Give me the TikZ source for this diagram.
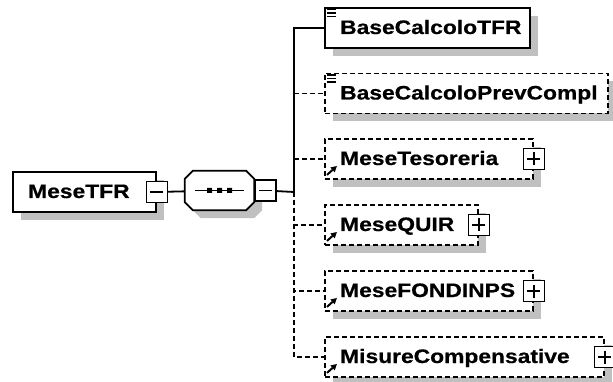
\documentclass[tikz,border=0pt]{standalone}
\usepackage{fontspec}
\newfontfamily\xsdfont{Liberation Sans}[FakeStretch=1.17, BoldFeatures={FakeBold=0.6}]
\usepackage{tikz}
\usetikzlibrary{positioning,shadows,calc,arrows.meta}
\definecolor{shadowGray}{HTML}{C0C0C0}

% octagon outline of a compositor node, moved by (#2,#3)
\newcommand{\octpath}[3]{($(#1.north west)+(8+#2,#3)$) -- ($(#1.north east)+(-8+#2,#3)$)
  -- ($(#1.north east)+(#2,8+#3)$) -- ($(#1.south east)+(#2,-8+#3)$)
  -- ($(#1.south east)+(-8+#2,#3)$) -- ($(#1.south west)+(8+#2,#3)$)
  -- ($(#1.south west)+(#2,-8+#3)$) -- ($(#1.north west)+(#2,8+#3)$) -- cycle}

\begin{document}
\begin{tikzpicture}[
  x=1pt, y=-1pt,
  font={\xsdfont\bfseries\fontsize{19.5}{20}\selectfont},
  elem/.style={draw, fill=white, line width=1.8pt, minimum height=40pt, inner sep=0pt, anchor=west,
    drop shadow={shadow xshift=8pt, shadow yshift=-8pt, fill=shadowGray, opacity=1}},
  optional/.style={dash pattern=on 5pt off 3pt},
  elemname/.style={inner sep=0pt, anchor=base west},
  compositor/.style={minimum width=69pt, minimum height=39pt, inner sep=0pt},
  expander/.style={draw, fill=white, line width=1.6pt, minimum size=21pt, inner sep=0pt},
  minusbox/.style={expander, path picture={
    \draw[line width=1.6pt] ([xshift=4pt]path picture bounding box.west) -- ([xshift=-4pt]path picture bounding box.east);}},
  plusbox/.style={expander, path picture={
    \draw[line width=1.6pt] ([xshift=4pt]path picture bounding box.west) -- ([xshift=-4pt]path picture bounding box.east);
    \draw[line width=1.6pt] ([yshift=-4pt]path picture bounding box.north) -- ([yshift=4pt]path picture bounding box.south);}},
  conn/.style={line width=1.8pt},
  refarrow/.style={line width=2pt, -{Triangle[length=6pt, width=6pt]}},
]
\useasboundingbox (0,0) rectangle (613,382);

% Root element
\node[elem, minimum width=143pt] (root) at (12,192) {};
\node[elemname] at ([xshift=16pt, yshift=-6pt]root.west) {MeseTFR};
\node[minusbox] (rootminus) at (root.east) {};

% Sequence compositor
\node[compositor] (seq) at (219.5,190.5) {};
\fill[shadowGray] \octpath{seq}{8}{8};
\draw[conn, fill=white] \octpath{seq}{0}{0};
\draw[conn] ([xshift=10pt]seq.west) -- ([xshift=-10pt]seq.east);
\fill ([xshift=-12.5pt, yshift=2.5pt]seq.center) rectangle ++(5,5) ++(5,-5) rectangle ++(5,5) ++(5,-5) rectangle ++(5,5);
\node[minusbox, anchor=west] (seqminus) at (seq.east) {};
\draw[conn] (rootminus) -- (seq);

% Children
\node[elem, minimum width=205pt] (tfr) at (324,28) {};
\node[elemname] at ([xshift=16pt, yshift=-6pt]tfr.west) {BaseCalcoloTFR};

\node[elem, optional, minimum width=283pt] (prev) at (324,93.5) {};
\node[elemname] at ([xshift=16pt, yshift=-6pt]prev.west) {BaseCalcoloPrevCompl};

\node[elem, optional, minimum width=208pt] (tes) at (324,159) {};
\node[elemname] at ([xshift=16pt, yshift=-6pt]tes.west) {MeseTesoreria};
\node[plusbox] (tesplus) at (tes.east) {};

\node[elem, optional, minimum width=153pt] (quir) at (324,225) {};
\node[elemname] at ([xshift=16pt, yshift=-6pt]quir.west) {MeseQUIR};
\node[plusbox] (quirplus) at (quir.east) {};

\node[elem, optional, minimum width=208pt] (fond) at (324,291) {};
\node[elemname] at ([xshift=16pt, yshift=-6pt]fond.west) {MeseFONDINPS};
\node[plusbox] (fondplus) at (fond.east) {};

\node[elem, optional, minimum width=279pt] (misure) at (324,357) {};
\node[elemname] at ([xshift=16pt, yshift=-6pt]misure.west) {MisureCompensative};
\node[plusbox] (misureplus) at (misure.east) {};

% Element icons
\foreach \e in {tfr, prev} {
  \foreach \d in {2.5, 6, 9.5}
    \draw[line width=1.6pt] ([xshift=3pt, yshift=-\d pt]\e.north west) -- ++(9,0);
}
\foreach \e in {tes, quir, fond, misure}
  \draw[refarrow] ([xshift=3pt, yshift=5pt]\e.south west) -- ++(10,-9);

% Connectors
\coordinate (trunk) at (294,192);
\draw[conn] (seqminus) -- (trunk);
\draw[conn] (trunk) |- (tfr.west);
\draw[conn, optional] (trunk |- prev.west) -- (prev.west);
\draw[conn, optional] (trunk |- tes.west) -- (tes.west);
\draw[conn, optional] (trunk) |- (quir.west);
\draw[conn, optional] (trunk) |- (fond.west);
\draw[conn, optional] (trunk) |- (misure.west);

\end{tikzpicture}
\end{document}
